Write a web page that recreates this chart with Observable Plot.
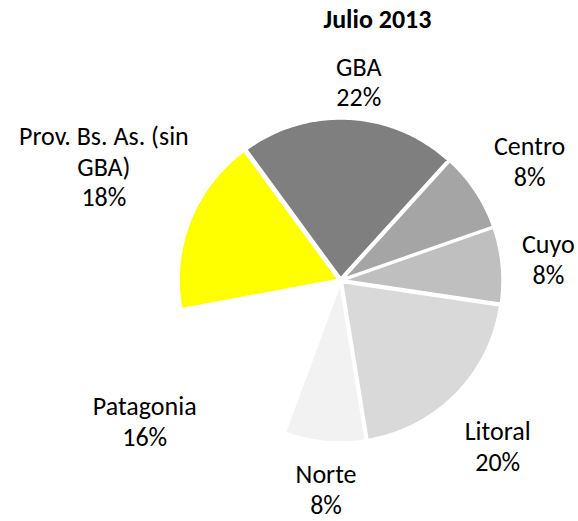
<!DOCTYPE html>
<html>
<head>
<meta charset="utf-8">
<script src="https://cdn.jsdelivr.net/npm/d3@7"></script>
<script src="https://cdn.jsdelivr.net/npm/@observablehq/plot@0.6"></script>
<style>
  html, body { margin: 0; padding: 0; background: #ffffff; }
  #chart svg { display: block; }
</style>
</head>
<body>
<div id="chart"></div>
<script>
// ---- data ----
const title = "Julio 2013";
const regions = ["GBA", "Centro", "Cuyo", "Litoral", "Norte", "Patagonia", "Prov. Bs. As. (sin GBA)"];
const labelNames = ["GBA", "Centro", "Cuyo", "Litoral", "Norte", "Patagonia", "Prov. Bs. As. (sin\nGBA)"];
const shares = [21.8, 7.9, 7.7, 20.1, 8.2, 16.4, 17.9];
const colors = ["#7f7f7f", "#a5a5a5", "#bfbfbf", "#d9d9d9", "#f2f2f2", "#ffffff", "#ffff00"];

// ---- layout ----
const W = 578, H = 521;
const cx = 340, cy = 280;          // pie centre in the frame (px)
const R = 160, explode = 2, startAngle = -36.2;
const labelRadius = [200, 224, 209, 228, 209, 241, 263];
const labelShift = [2.2, 1.1, -0.6, 1.8, -1.6, 4.5, 4.3];
const font = "Calibri, Carlito, Lato, 'Open Sans', sans-serif";

const total = d3.sum(shares);
const rad = a => a * Math.PI / 180;
const polar = (r, a) => ({x: r * Math.sin(rad(a)), y: r * Math.cos(rad(a))});

const slicePts = [];
const labels = [];
let a0 = startAngle;
regions.forEach((name, i) => {
  const span = shares[i] / total * 360;
  const a1 = a0 + span;
  const mid = (a0 + a1) / 2;
  const off = polar(explode, mid);
  const tip = {name, x: off.x, y: off.y};
  slicePts.push(tip);
  const n = Math.max(2, Math.ceil(span));
  for (let k = 0; k <= n; k++) {
    const p = polar(R, a0 + span * k / n);
    slicePts.push({name, x: p.x + off.x, y: p.y + off.y});
  }
  slicePts.push({...tip});
  const lp = polar(labelRadius[i], mid + labelShift[i]);
  labels.push({name, x: lp.x, y: lp.y, text: labelNames[i] + "\n" + Math.round(shares[i]) + "%"});
  a0 = a1;
});

const chart = Plot.plot({
  width: W,
  height: H,
  margin: 0,
  style: {background: "#ffffff", fontFamily: font},
  x: {domain: [-cx, W - cx], axis: null},
  y: {domain: [cy - H, cy], axis: null},
  color: {domain: regions, range: colors, type: "ordinal"},
  marks: [
    Plot.line(slicePts, {x: "x", y: "y", z: "name", fill: "name", stroke: "#ffffff", strokeWidth: 2.5, strokeLinejoin: "miter", curve: "linear"}),
    Plot.text(labels, {x: "x", y: "y", text: "text", fontSize: 26, lineHeight: 1.18, fill: "#000000", fontFamily: font}),
    Plot.text([title], {x: () => 37, y: () => cy - 27, text: d => d, lineAnchor: "bottom", fontSize: 26, fontWeight: "bold", fill: "#000000", fontFamily: font})
  ]
});
document.getElementById("chart").appendChild(chart);
</script>
</body>
</html>
